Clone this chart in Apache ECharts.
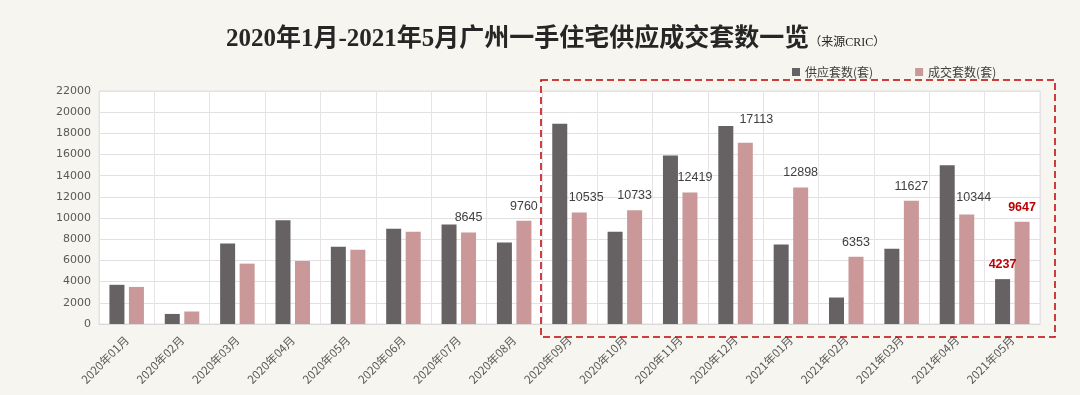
<!DOCTYPE html>
<html>
<head>
<meta charset="utf-8">
<script src="https://cdn.jsdelivr.net/npm/echarts@6/dist/echarts.min.js"></script>
<style>
html,body{margin:0;padding:0;background:#f7f5ef;}
#main{width:1080px;height:395px;}
</style>
</head>
<body>
<div id="main"></div>
<script>
const categories = ['2020年01月','2020年02月','2020年03月','2020年04月','2020年05月','2020年06月','2020年07月','2020年08月','2020年09月','2020年10月','2020年11月','2020年12月','2021年01月','2021年02月','2021年03月','2021年04月','2021年05月'];
const supply = [3700, 950, 7600, 9800, 7300, 9000, 9400, 7700, 18900, 8700, 15900, 18700, 7500, 2500, 7100, 15000, 4237];
const deals = [3500, 1180, 5700, 5950, 7000, 8700, 8645, 9760, 10535, 10733, 12419, 17113, 12898, 6353, 11627, 10344, 9647];
const supplyLabeled = [16];
const dealsLabeled = [6, 7, 8, 9, 10, 11, 12, 13, 14, 15, 16];
const highlighted = [16];
const yTicks = [0, 2000, 4000, 6000, 8000, 10000, 12000, 14000, 16000, 18000, 20000, 22000];

const labelOffsets = {8: [7, 0], 10: [5, 0], 11: [11, -9], 15: [7, -2]};

function buildData(vals, labeled, isSupply) {
  return vals.map((v, i) => {
    const item = {value: v};
    if (labeled.includes(i)) {
      const hi = highlighted.includes(i);
      item.label = {
        show: true,
        position: 'top',
        distance: 8,
        color: hi ? '#c00000' : '#404040',
        fontWeight: hi ? 'bold' : 'normal',
        fontSize: 12.5,
        fontFamily: '"Liberation Sans", Arial, sans-serif'
      };
      if (!isSupply && labelOffsets[i]) item.label.offset = labelOffsets[i];
    }
    return item;
  });
}

const chart = echarts.init(document.getElementById('main'));
chart.setOption({
  backgroundColor: '#f7f5ef',
  animation: false,
  title: {
    text: '{m|2020年1月-2021年5月广州一手住宅供应成交套数一览}{s|（来源CRIC）}',
    left: 221,
    top: 22,
    textStyle: {
      rich: {
        m: {fontSize: 25, fontWeight: 'bold', color: '#262626', fontFamily: '"Liberation Serif", "Noto Sans CJK SC", serif'},
        s: {fontSize: 12, fontWeight: 'normal', color: '#262626', fontFamily: '"Liberation Serif", "Noto Sans CJK SC", serif', padding: [7, 0, 0, 0]}
      }
    }
  },
  legend: {
    top: 61,
    left: 787,
    itemWidth: 8,
    itemHeight: 8,
    itemGap: 42,
    icon: 'rect',
    textStyle: {fontSize: 12, color: '#404040', fontFamily: '"Noto Sans CJK SC", sans-serif'},
    data: ['供应套数(套)', '成交套数(套)']
  },
  grid: {
    left: 99, right: 40, top: 91, bottom: 71,
    show: true, backgroundColor: '#ffffff', borderColor: '#e3e0e3', borderWidth: 1
  },
  xAxis: {
    type: 'category',
    data: categories,
    axisTick: {show: false},
    axisLine: {lineStyle: {color: '#d9d9d9'}},
    splitLine: {show: true, lineStyle: {color: '#e6e2e8'}},
    axisLabel: {rotate: 45, fontSize: 11.5, color: '#595959', interval: 0, margin: 14,
      fontFamily: '"Noto Sans CJK SC", sans-serif'}
  },
  yAxis: {
    type: 'value',
    min: 0, max: yTicks[yTicks.length - 1], interval: yTicks[1] - yTicks[0],
    axisLine: {show: false},
    axisTick: {show: false},
    splitLine: {lineStyle: {color: '#e3e0e3'}},
    axisLabel: {fontSize: 11, color: '#595959', margin: 8, fontFamily: '"DejaVu Sans", sans-serif',
      formatter: v => String(v)}
  },
  series: [
    {
      name: '供应套数(套)', type: 'bar', barWidth: 15, barGap: '30%',
      itemStyle: {color: '#666264'},
      data: buildData(supply, supplyLabeled, true)
    },
    {
      name: '成交套数(套)', type: 'bar', barWidth: 15,
      itemStyle: {color: '#ca9898'},
      data: buildData(deals, dealsLabeled, false)
    }
  ],
  graphic: [{
    type: 'rect',
    shape: {x: 541, y: 80, width: 514, height: 257},
    style: {fill: 'none', stroke: '#c00000', lineWidth: 1.5, lineDash: [7, 4]},
    z: 100
  }]
});
</script>
</body>
</html>
